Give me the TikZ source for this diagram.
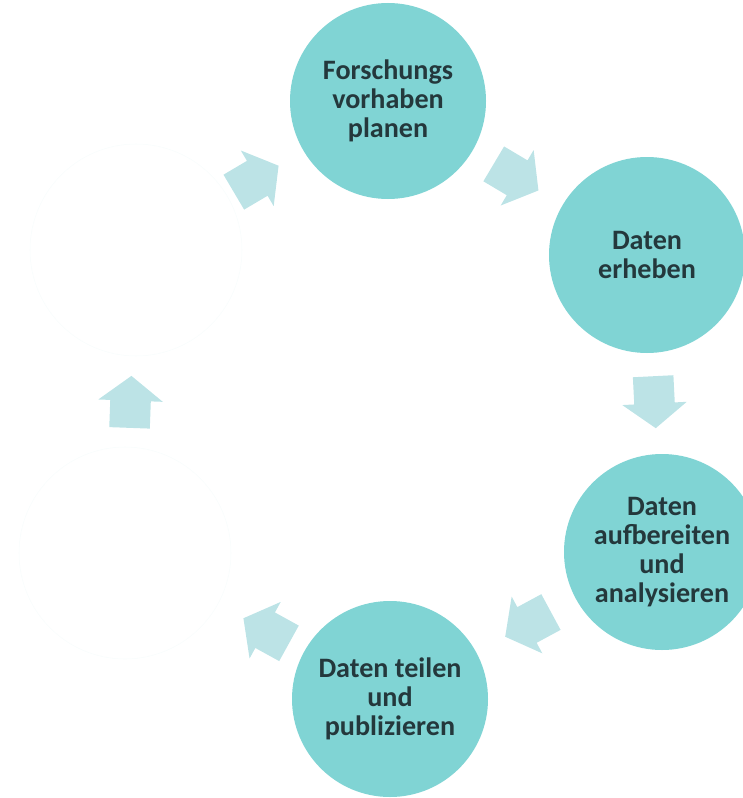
\documentclass[tikz,border=0pt]{standalone}
\usepackage{fontspec}
\setmainfont{Carlito}
\usepackage{tikz}
\usetikzlibrary{shapes.arrows}
\definecolor{phaseteal}{RGB}{128,212,212}
\definecolor{flowteal}{RGB}{188,227,230}
\definecolor{phasetext}{RGB}{36,56,60}

\begin{document}
\begin{tikzpicture}[
    phase/.style={shape=circle,fill=phaseteal,minimum size=4.9cm,inner sep=0pt,align=center,
      text=phasetext,font=\bfseries\fontsize{20}{20.5}\selectfont},
    blank/.style={shape=circle,fill=white,draw=phaseteal!5,minimum size=5.3cm,inner sep=0pt},
    flow/.style={single arrow,fill=flowteal,sloped,allow upside down,inner xsep=0pt,inner ysep=0.5cm,
      minimum height=1.3cm,single arrow head extend=0.3cm,
      single arrow tip angle=105,pos=0.41}
  ]
      \useasboundingbox (0,0) rectangle (18.55,-19.95);

      \node[phase](plan) at (9.7,-2.525) {Forschungs\\vorhaben\\planen};
      \node[phase](erheben) at (16.175,-6.375) {Daten\\erheben};
      \node[phase](analyse) at (16.55,-13.8) {Daten\\aufbereiten\\und\\analysieren};
      \node[phase](teilen) at (9.75,-17.475) {Daten teilen\\und\\publizieren};
      \node[blank](leerB) at (3.125,-13.825) {};
      \node[blank](leerA) at (3.4,-6.25) {};

      \path (plan) -- node[flow] {} (erheben);
      \path (erheben) -- node[flow] {} (analyse);
      \path (analyse) -- node[flow] {} (teilen);
      \path (teilen) -- node[flow,pos=0.36] {} (leerB);
      \path (leerB) -- node[flow] {} (leerA);
      \path (leerA) -- node[flow,pos=0.29] {} (plan);
    \end{tikzpicture}
\end{document}
